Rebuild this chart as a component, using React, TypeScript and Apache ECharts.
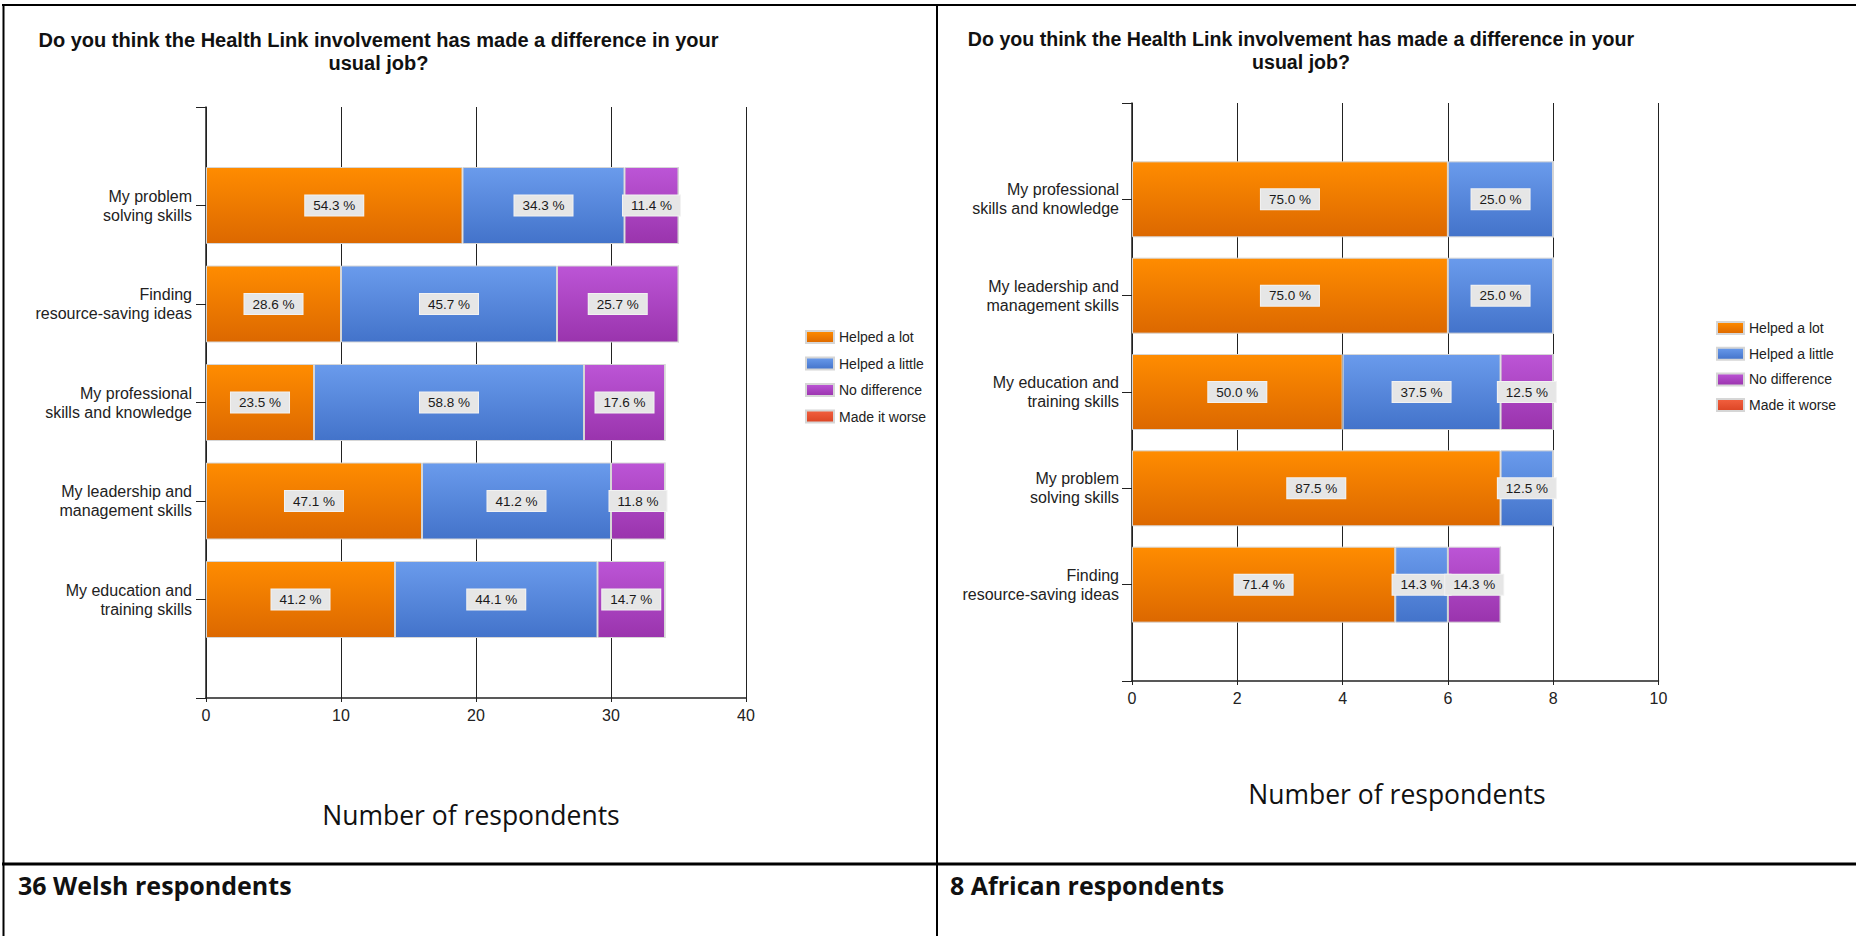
import React, { useEffect, useRef } from "react";
import * as echarts from "echarts";

const seriesNames = ["Helped a lot", "Helped a little", "No difference", "Made it worse"];

// Welsh respondents (left chart)
const welshCategories = [
  "My problem\nsolving skills",
  "Finding\nresource-saving ideas",
  "My professional\nskills and knowledge",
  "My leadership and\nmanagement skills",
  "My education and\ntraining skills",
];
const welshHelpedALot = [19, 10, 8, 16, 14];
const welshHelpedALittle = [12, 16, 20, 14, 15];
const welshNoDifference = [4, 9, 6, 4, 5];
const welshMadeItWorse = [0, 0, 0, 0, 0];
const welshPctLot = ["54.3", "28.6", "23.5", "47.1", "41.2"];
const welshPctLittle = ["34.3", "45.7", "58.8", "41.2", "44.1"];
const welshPctNoDiff = ["11.4", "25.7", "17.6", "11.8", "14.7"];
const welshPctWorse = ["", "", "", "", ""];
const welshTicks = [0, 10, 20, 30, 40];

// African respondents (right chart)
const africanCategories = [
  "My professional\nskills and knowledge",
  "My leadership and\nmanagement skills",
  "My education and\ntraining skills",
  "My problem\nsolving skills",
  "Finding\nresource-saving ideas",
];
const africanHelpedALot = [6, 6, 4, 7, 5];
const africanHelpedALittle = [2, 2, 3, 1, 1];
const africanNoDifference = [0, 0, 1, 0, 1];
const africanMadeItWorse = [0, 0, 0, 0, 0];
const africanPctLot = ["75.0", "75.0", "50.0", "87.5", "71.4"];
const africanPctLittle = ["25.0", "25.0", "37.5", "12.5", "14.3"];
const africanPctNoDiff = ["", "", "12.5", "", "14.3"];
const africanPctWorse = ["", "", "", "", ""];
const africanTicks = [0, 2, 4, 6, 8, 10];

const titleText = "Do you think the Health Link involvement has made a difference in your\nusual job?";
const axisTitle = "Number of respondents";
const welshFooter = "36 Welsh respondents";
const africanFooter = "8 African respondents";

const ARIAL = "'Liberation Sans', Arial, sans-serif";
const grad = (a: string, b: string) =>
  new echarts.graphic.LinearGradient(0, 0, 0, 1, [
    { offset: 0, color: a },
    { offset: 1, color: b },
  ]);
const colors = [
  ["#FF8C00", "#DC6800"],
  ["#6A9BEC", "#4373CA"],
  ["#BC55D6", "#9A34AD"],
  ["#F2603F", "#DB4424"],
];

function buildSeries(values: number[][], pcts: string[][], gridIdx: number, barWidth: number) {
  return values.map((vals, si) => ({
    type: "bar",
    name: seriesNames[si],
    xAxisIndex: gridIdx,
    yAxisIndex: gridIdx,
    stack: "s" + gridIdx,
    barWidth,
    itemStyle: {
      color: grad(colors[si][0], colors[si][1]),
      borderColor: "#d6d6d6",
      borderWidth: 1,
    },
    label: {
      show: true,
      position: "inside",
      color: "#1a1a1a",
      fontFamily: ARIAL,
      fontSize: 13.5,
      backgroundColor: "#e6e6e6",
      borderColor: "#f2f2f2",
      borderWidth: 1,
      padding: [3, 8, 3, 8],
      formatter: (p: any) => (pcts[si][p.dataIndex - 1] ? pcts[si][p.dataIndex - 1] + " %" : ""),
    },
    data: [
      null,
      ...vals.map((v) => ({ value: v, label: { show: v > 0 } })),
      null,
    ],
  }));
}

function axisPair(gridIdx: number, cats: string[], ticks: number[], labelMargin: number) {
  const x = {
    type: "value",
    gridIndex: gridIdx,
    min: ticks[0],
    max: ticks[ticks.length - 1],
    interval: ticks[1] - ticks[0],
    axisLine: { show: true, lineStyle: { color: "#222", width: 1.5 } },
    axisTick: { show: true, length: 4, lineStyle: { color: "#222" } },
    splitLine: { show: true, lineStyle: { color: "#222", width: 1 } },
    axisLabel: { color: "#222", fontSize: 16, fontFamily: ARIAL, margin: 9 },
  };
  const y = {
    type: "category",
    gridIndex: gridIdx,
    inverse: true,
    boundaryGap: false,
    data: ["", ...cats, ""],
    axisLine: { show: true, lineStyle: { color: "#222", width: 1.5 } },
    axisTick: { show: true, length: 10, lineStyle: { color: "#222" } },
    splitLine: { show: false },
    axisLabel: {
      color: "#222",
      fontSize: 16,
      fontFamily: ARIAL,
      lineHeight: 19,
      margin: labelMargin,
      align: "right",
    },
  };
  return { x, y };
}

export default function App() {
  const ref = useRef<HTMLDivElement>(null);
  useEffect(() => {
    if (!ref.current) return;
    const chart = echarts.init(ref.current, null, { renderer: "svg" });
    const a0 = axisPair(0, welshCategories, welshTicks, 14);
    const a1 = axisPair(1, africanCategories, africanTicks, 13);
    const legendBase = {
      orient: "vertical",
      icon: "rect",
      itemWidth: 28,
      itemHeight: 12,
      padding: 0,
      textStyle: { color: "#222", fontSize: 14, fontFamily: ARIAL },
      data: seriesNames,
      selectedMode: false,
    };
    const titleStyle = {
      text: titleText,
      fontSize: 20,
      fontWeight: "bold",
      fontFamily: ARIAL,
      fill: "#111",
      align: "center",
      verticalAlign: "middle",
      lineHeight: 23,
    };
    const footStyle = {
      fontSize: 25,
      fontWeight: "bold",
      fontFamily: "'Open Sans', sans-serif",
      fill: "#111",
      align: "left",
      verticalAlign: "middle",
    };
    const axisTitleStyle = {
      text: axisTitle,
      fontSize: 26.5,
      fontFamily: "'Open Sans', sans-serif",
      fill: "#111",
      align: "center",
      verticalAlign: "middle",
    };
    const option: any = {
      animation: false,
      backgroundColor: "#ffffff",
      grid: [
        { left: 206, top: 107, width: 540, height: 591, containLabel: false },
        { left: 1132, top: 103, width: 526.5, height: 578, containLabel: false },
      ],
      xAxis: [a0.x, a1.x],
      yAxis: [a0.y, a1.y],
      legend: [
        { ...legendBase, left: 805, top: 330, itemGap: 12.5 },
        { ...legendBase, left: 1716, top: 321, itemGap: 11.7, itemWidth: 27 },
      ],
      series: [
        ...buildSeries(
          [welshHelpedALot, welshHelpedALittle, welshNoDifference, welshMadeItWorse],
          [welshPctLot, welshPctLittle, welshPctNoDiff, welshPctWorse],
          0,
          77
        ),
        ...buildSeries(
          [africanHelpedALot, africanHelpedALittle, africanNoDifference, africanMadeItWorse],
          [africanPctLot, africanPctLittle, africanPctNoDiff, africanPctWorse],
          1,
          76
        ),
      ],
      graphic: [
        // table borders
        { type: "line", shape: { x1: 2, y1: 5, x2: 1856, y2: 5 }, style: { stroke: "#000", lineWidth: 2 } },
        { type: "line", shape: { x1: 3.5, y1: 4, x2: 3.5, y2: 936 }, style: { stroke: "#000", lineWidth: 2 } },
        { type: "line", shape: { x1: 937, y1: 4, x2: 937, y2: 936 }, style: { stroke: "#000", lineWidth: 2 } },
        { type: "line", shape: { x1: 2, y1: 864, x2: 1856, y2: 864 }, style: { stroke: "#000", lineWidth: 3 } },
        // titles
        { type: "text", x: 378.5, y: 51.5, style: { ...titleStyle } },
        { type: "text", x: 1301, y: 50, style: { ...titleStyle, fontSize: 19.6 } },
        // axis titles
        { type: "text", x: 471, y: 815, style: { ...axisTitleStyle } },
        { type: "text", x: 1397, y: 794, style: { ...axisTitleStyle } },
        // footers
        { type: "text", x: 18, y: 885, style: { ...footStyle, text: welshFooter } },
        { type: "text", x: 950, y: 885, style: { ...footStyle, text: africanFooter } },
      ],
    };
    chart.setOption(option);
    return () => chart.dispose();
  }, []);
  return (
    <div
      ref={ref}
      style={{ position: "absolute", left: 0, top: 0, width: 1856, height: 936, background: "#fff" }}
    />
  );
}
